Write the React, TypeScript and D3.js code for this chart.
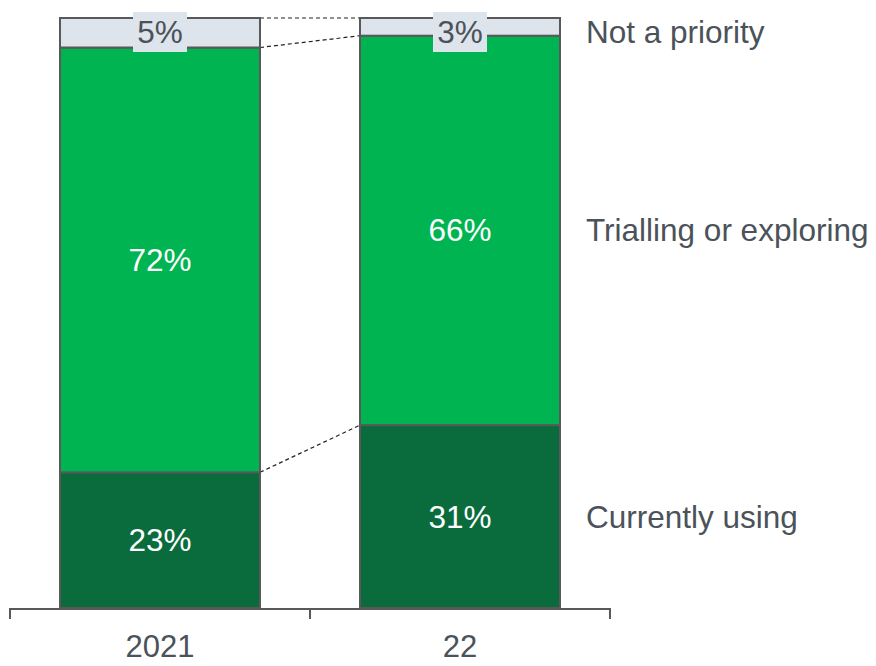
import React from 'react';
import * as d3 from 'd3';

const years = ['2021', '22'];
const segments = ['Currently using', 'Trialling or exploring', 'Not a priority'];
const currentlyUsing = [23, 31];
const trialling = [72, 66];
const notPriority = [5, 3];

const colors = ['#0a6b3c', '#00b451', '#dde4eb'];
const labelColors = ['#ffffff', '#ffffff', '#4b5259'];
const textGray = '#4b5259';

export default function App() {
  const width = 876;
  const height = 666;
  const font = '"Liberation Sans", Arial, sans-serif';

  const x = d3.scaleBand<string>().domain(years).range([10, 610]).paddingInner(0.3333).paddingOuter(0.1667);
  const y = d3.scaleLinear().domain([0, 100]).range([608, 18]);

  const rows = years.map((yr, i) => ({
    year: yr,
    values: [currentlyUsing[i], trialling[i], notPriority[i]],
  }));
  const stack = rows.map(r => {
    let acc = 0;
    return r.values.map(v => {
      const s = { y0: acc, y1: acc + v, v };
      acc += v;
      return s;
    });
  });

  const bw = x.bandwidth();
  const last = stack[stack.length - 1];

  return (
    <svg width={width} height={height} style={{ position: 'absolute', left: 0, top: 0 }} fontFamily={font}>
      {/* connector dashed lines */}
      {years.slice(0, -1).map((yr, i) => {
        const nxt = years[i + 1];
        return stack[i].map((s, k) => (
          <line key={`c${i}-${k}`}
            x1={(x(yr) as number) + bw} x2={x(nxt) as number}
            y1={y(s.y1)} y2={y(stack[i + 1][k].y1)}
            stroke="#222" strokeWidth={1.2} strokeDasharray="4,3" />
        ));
      })}
      {/* bars */}
      {years.map((yr, i) => stack[i].map((s, k) => (
        <rect key={`b${i}-${k}`} x={x(yr)} y={y(s.y1)} width={bw} height={y(s.y0) - y(s.y1)}
          fill={colors[k]} stroke="#595959" strokeWidth={2} />
      )))}
      {/* value labels */}
      {years.map((yr, i) => stack[i].map((s, k) => {
        const cx = (x(yr) as number) + bw / 2;
        const cy = k === 2 ? y(s.y1) + 14 : (y(s.y0) + y(s.y1)) / 2;
        return (
          <g key={`l${i}-${k}`}>
            {k === 2 && <rect x={cx - 27} y={cy - 20} width={54} height={40} fill={colors[2]} />}
            <text x={cx} y={cy} textAnchor="middle" dominantBaseline="central"
              fontSize={31.5} fill={labelColors[k]}>{s.v}%</text>
          </g>
        );
      }))}
      {/* legend labels */}
      {segments.map((name, k) => (
        <text key={name} x={586} y={k === 2 ? y(last[k].y1) + 14 : (y(last[k].y0) + y(last[k].y1)) / 2}
          dominantBaseline="central" fontSize={31.5} fill={textGray}>{name}</text>
      ))}
      {/* axis */}
      <line x1={10} x2={610} y1={609} y2={609} stroke="#595959" strokeWidth={2} />
      {[10, ...years.map(yr => (x(yr) as number) + bw + x.step() * x.paddingInner() / 2)].map((tx, i) => (
        <line key={`t${i}`} x1={tx} x2={tx} y1={608} y2={619} stroke="#595959" strokeWidth={2} />
      ))}
      {years.map(yr => (
        <text key={yr} x={(x(yr) as number) + bw / 2} y={646} textAnchor="middle"
          dominantBaseline="central" fontSize={31} fill={textGray}>{yr}</text>
      ))}
    </svg>
  );
}
